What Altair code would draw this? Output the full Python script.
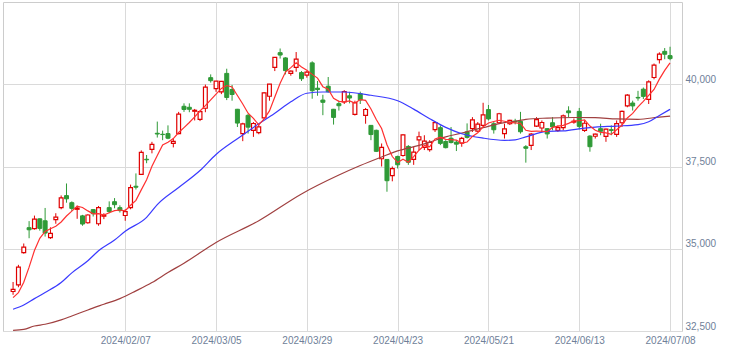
import altair as alt
import pandas as pd

# ---- trading days (2024) ----
jan = [9, 10, 11, 12, 15, 16, 17, 18, 19, 22, 23, 24, 25, 26, 29, 30, 31]
feb = [1, 2, 5, 6, 7, 8, 9, 13, 14, 15, 16, 19, 20, 21, 22, 26, 27, 28, 29]
mar = [1, 4, 5, 6, 7, 8, 11, 12, 13, 14, 15, 18, 19, 21, 22, 25, 26, 27, 28, 29]
apr = [1, 2, 3, 4, 5, 8, 9, 10, 11, 12, 15, 16, 17, 18, 19, 22, 23, 24, 25, 26, 30]
may = [1, 2, 7, 8, 9, 10, 13, 14, 15, 16, 17, 20, 21, 22, 23, 24, 27, 28, 29, 30, 31]
jun = [3, 4, 5, 6, 7, 10, 11, 12, 13, 14, 17, 18, 19, 20, 21, 24, 25, 26, 27, 28]
jul = [1, 2, 3, 4, 5, 8]
dates = []
for m, days in [(1, jan), (2, feb), (3, mar), (4, apr), (5, may), (6, jun), (7, jul)]:
    dates += [f"2024/{m:02d}/{d:02d}" for d in days]

opens = [33700, 33900, 34880, 35640, 35610, 35910, 35850, 35340, 35885, 36250,
         36615, 36400, 36200, 36000, 35790, 36190, 35760, 35990, 36250, 36430,
         36250, 36010, 36250, 36900, 37260, 37720, 38020, 38510, 38480, 38500,
         38200, 38500, 39330, 39300, 39180, 38930, 39270, 40200, 39870, 39770,
         40330, 39840, 39240, 38500, 39055, 38600, 38530, 38975, 39635, 40510,
         40960, 40800, 40330, 40510, 40355, 40275, 40650, 39880, 39520, 39940,
         39240, 39410, 39460, 39650, 39085, 39715, 39055, 38750, 38600, 37735,
         37715, 37225, 37805, 37835, 38110, 37715, 38310, 38080, 38010, 38620,
         38680, 38260, 38360, 38240, 38210, 38550, 38650, 38575, 38750, 39230,
         38800, 38830, 38500, 38800, 38880, 38870, 38100, 38140, 38730, 38670,
         38650, 38830, 38600, 38680, 39190, 38850, 39175, 38600, 38425, 38420,
         38650, 38415, 38620, 38475, 38830, 39340, 39430, 39600, 39850, 39540,
         40205, 40750, 41000, 40870]
highs = [33990, 34511, 35160, 35840, 36008, 35920, 36240, 35650, 36080, 36620,
         36984, 36440, 36310, 36030, 36050, 36200, 36300, 36080, 36440, 36540,
         36320, 36200, 36950, 37290, 37990, 37850, 38250, 38865, 38590, 38750,
         38350, 39160, 39420, 39420, 39250, 39200, 39990, 40300, 40100, 40100,
         40472, 39980, 39250, 38830, 39100, 38850, 38800, 39760, 40010, 40823,
         41087, 40820, 40420, 40979, 40400, 40400, 40697, 40100, 39680, 40220,
         39250, 39500, 39820, 39770, 39500, 39775, 39280, 38760, 38620, 38200,
         37720, 37500, 37830, 38475, 38150, 38100, 38560, 38450, 38300, 38863,
         38750, 38300, 38700, 38300, 38400, 38810, 39000, 38850, 39437, 39370,
         38850, 39130, 38800, 38920, 38950, 39160, 38150, 38520, 39000, 38900,
         38660, 39000, 38750, 39080, 39330, 38960, 39280, 38900, 38450, 38500,
         38800, 38650, 38750, 38900, 39200, 39700, 39500, 39800, 39900, 40120,
         40630, 40970, 41100, 41140]
lows = [33600, 33830, 34850, 35320, 35580, 35550, 35370, 35300, 35760, 36200,
        36400, 36150, 35910, 35700, 35760, 35980, 35700, 35900, 36080, 36230,
        36100, 35850, 36200, 36800, 37250, 37600, 37900, 38380, 38300, 38330,
        38080, 38480, 39160, 39150, 38900, 38880, 39150, 40050, 39770, 39700,
        39518, 39500, 38700, 38270, 38500, 38400, 38480, 38960, 39500, 40400,
        40780, 40300, 40260, 40380, 40100, 40200, 39560, 39650, 39060, 39745,
        38774, 39200, 39400, 39420, 39050, 39400, 38800, 38300, 37940, 37500,
        36733, 37050, 37440, 37800, 37550, 37550, 38000, 38000, 37950, 38550,
        38150, 38050, 38200, 37970, 38100, 38350, 38550, 38550, 38700, 38900,
        38500, 38800, 38350, 38760, 38780, 38500, 37617, 38000, 38700, 38550,
        38350, 38600, 38550, 38600, 39000, 38800, 38630, 38550, 37950, 38350,
        38450, 38250, 38450, 38400, 38700, 39300, 39200, 39500, 39550, 39400,
        40150, 40630, 40760, 40730]
closes = [33763, 34441, 35049, 35577, 35901, 35619, 35477, 35466, 35963, 36546,
          36517, 36226, 36236, 35751, 36026, 36065, 36250, 36011, 36130, 36340,
          36160, 36130, 36860, 36870, 37930, 37703, 38170, 38487, 38470, 38360,
          38262, 39090, 39233, 39239, 39208, 39166, 39910, 40109, 40097, 40090,
          39598, 39688, 38820, 38797, 38696, 38807, 38707, 39740, 40003, 40815,
          40888, 40414, 40398, 40762, 40168, 40369, 39803, 39838, 39451, 39773,
          38992, 39347, 39773, 39581, 39442, 39523, 39232, 38471, 37961, 38079,
          37068, 37438, 37552, 38460, 37628, 37934, 38405, 38274, 38236, 38835,
          38202, 38073, 38229, 38179, 38356, 38385, 38920, 38787, 39070, 38946,
          38617, 39103, 38646, 38900, 38855, 38556, 38054, 38487, 38923, 38837,
          38490, 38703, 38683, 39038, 39134, 38876, 38720, 38814, 38102, 38482,
          38570, 38633, 38596, 38804, 39173, 39667, 39341, 39583, 39631, 40075,
          40580, 40913, 40912, 40780]

# 5-day moving average, one value per candle
ma5 = [33515, 33667, 33984, 34441, 34946, 35317, 35525, 35608, 35685, 35814,
       35994, 36144, 36298, 36255, 36151, 36061, 36066, 36021, 36096, 36159,
       36178, 36154, 36324, 36472, 36790, 37099, 37507, 37832, 38152, 38238,
       38350, 38534, 38683, 38837, 39006, 39187, 39351, 39526, 39698, 39874,
       39961, 39916, 39659, 39399, 39120, 38962, 38765, 38949, 39191, 39614,
       40031, 40372, 40504, 40655, 40526, 40422, 40300, 40188, 39926, 39847,
       39571, 39480, 39467, 39493, 39427, 39533, 39510, 39250, 38926, 38653,
       38162, 37803, 37620, 37719, 37629, 37802, 37996, 38140, 38095, 38337,
       38390, 38324, 38315, 38304, 38208, 38244, 38414, 38525, 38704, 38822,
       38868, 38905, 38876, 38842, 38824, 38812, 38602, 38570, 38575, 38571,
       38558, 38688, 38727, 38750, 38810, 38887, 38890, 38916, 38729, 38599,
       38538, 38520, 38477, 38617, 38755, 38975, 39116, 39314, 39479, 39659,
       39842, 40156, 40422, 40652]

# 25-day moving average (blue), read at selected candles
ma25_idx = [0, 2, 4, 6, 9, 11, 14, 16, 19, 21, 25, 27, 31, 35, 38, 42, 45, 49, 52, 55,
            58, 62, 67, 72, 75, 78, 81, 84, 88, 92, 94, 96, 100, 103, 107, 109, 113,
            117, 119, 121, 123]
ma25_val = [33161, 33292, 33484, 33670, 33972, 34268, 34634, 34939, 35265, 35533,
            35954, 36341, 36860, 37378, 37866, 38344, 38689, 39116, 39466, 39726,
            39765, 39765, 39665, 39497, 39244, 38954, 38689, 38497, 38363, 38293,
            38310, 38400, 38567, 38580, 38668, 38698, 38729, 38775, 38860, 39050,
            39238]

# 75-day moving average (brown), read at selected candles
ma75_idx = [0, 2, 4, 6, 9, 11, 14, 17, 20, 23, 26, 29, 32, 38, 46, 54, 61, 65, 69, 72,
            76, 78, 81, 84, 88, 92, 94, 96, 100, 105, 109, 113, 117, 121, 123]
ma75_val = [32521, 32551, 32652, 32705, 32840, 32957, 33140, 33313, 33484, 33719,
            33972, 34277, 34560, 35192, 35853, 36667, 37240, 37530, 37790, 37975,
            38140, 38241, 38400, 38515, 38680, 38832, 38872, 38933, 38972, 38990,
            38985, 38945, 38935, 39003, 39033]

label_idx = [21, 38, 55, 72, 89, 106, 123]
y_ticks = [32500, 35000, 37500, 40000]

# ---- frames ----
n = len(dates)
df = pd.DataFrame({"i": list(range(n)), "date": dates, "open": opens,
                   "high": highs, "low": lows, "close": closes})
up = df[df["close"] >= df["open"]]
down = df[df["close"] < df["open"]]
ma5_df = pd.DataFrame({"i": list(range(n)), "v": ma5})
ma25_df = pd.DataFrame({"i": ma25_idx, "v": ma25_val})
ma75_df = pd.DataFrame({"i": ma75_idx, "v": ma75_val})

RED = "#e00000"
GREEN = "#2f9a37"
LABEL = "#6f7f99"
FONT = "Liberation Sans"

xs = alt.Scale(domain=[-0.95, 124.3], nice=False, zero=False)
ys = alt.Scale(domain=[32500, 42500], nice=False, zero=False)

expr = "''"
for k in reversed(label_idx):
    expr = f"datum.value == {k} ? '{dates[k]}' : ({expr})"

xaxis = alt.Axis(values=label_idx, labelExpr=expr, grid=True, domain=False, ticks=False,
                 labelFlush=False, labelOverlap=False, labelPadding=4, title=None,
                 labelFont=FONT, labelFontSize=10, labelColor=LABEL,
                 gridColor="#dadada", gridWidth=1)
yaxis = alt.Axis(orient="right", values=y_ticks, format=",d", grid=True, domain=False,
                 ticks=False, labelBaseline="bottom", labelPadding=3, title=None,
                 labelFont=FONT, labelFontSize=10, labelColor=LABEL,
                 gridColor="#dadada", gridWidth=1, labelAlign="left")


def X():
    return alt.X("i:Q", scale=xs, axis=xaxis, title=None)


def Y(field):
    return alt.Y(f"{field}:Q", scale=ys, axis=yaxis, title=None)


wick_up = alt.Chart(up).mark_rule(color=RED, strokeWidth=1).encode(
    x=X(), y=Y("low"), y2="high:Q")
wick_down = alt.Chart(down).mark_rule(color=GREEN, strokeWidth=1).encode(
    x=X(), y=Y("low"), y2="high:Q")
body_up = alt.Chart(up).mark_bar(size=3.8, fill="white", stroke=RED, strokeWidth=1.2).encode(
    x=X(), y=Y("open"), y2="close:Q")
body_down = alt.Chart(down).mark_bar(size=4, fill=GREEN, stroke=GREEN, strokeWidth=1).encode(
    x=X(), y=Y("open"), y2="close:Q")

line75 = alt.Chart(ma75_df).mark_line(color="#a04040", strokeWidth=1.2, interpolate="monotone").encode(
    x=X(), y=Y("v"))
line25 = alt.Chart(ma25_df).mark_line(color="#3a3aff", strokeWidth=1.2, interpolate="monotone").encode(
    x=X(), y=Y("v"))
line5 = alt.Chart(ma5_df).mark_line(color="#ff3030", strokeWidth=1.2).encode(
    x=X(), y=Y("v"))

chart = alt.layer(
    wick_up, wick_down, body_up, body_down, line75, line25, line5
).properties(
    width=679, height=329,
    padding={"left": 3, "top": 2, "right": 47, "bottom": 22},
    autosize=alt.AutoSizeParams(type="none"),
    background="white",
).configure_view(stroke="#cccccc", strokeWidth=1)

chart.save("out.html", embed_options={"renderer": "svg", "actions": False})
